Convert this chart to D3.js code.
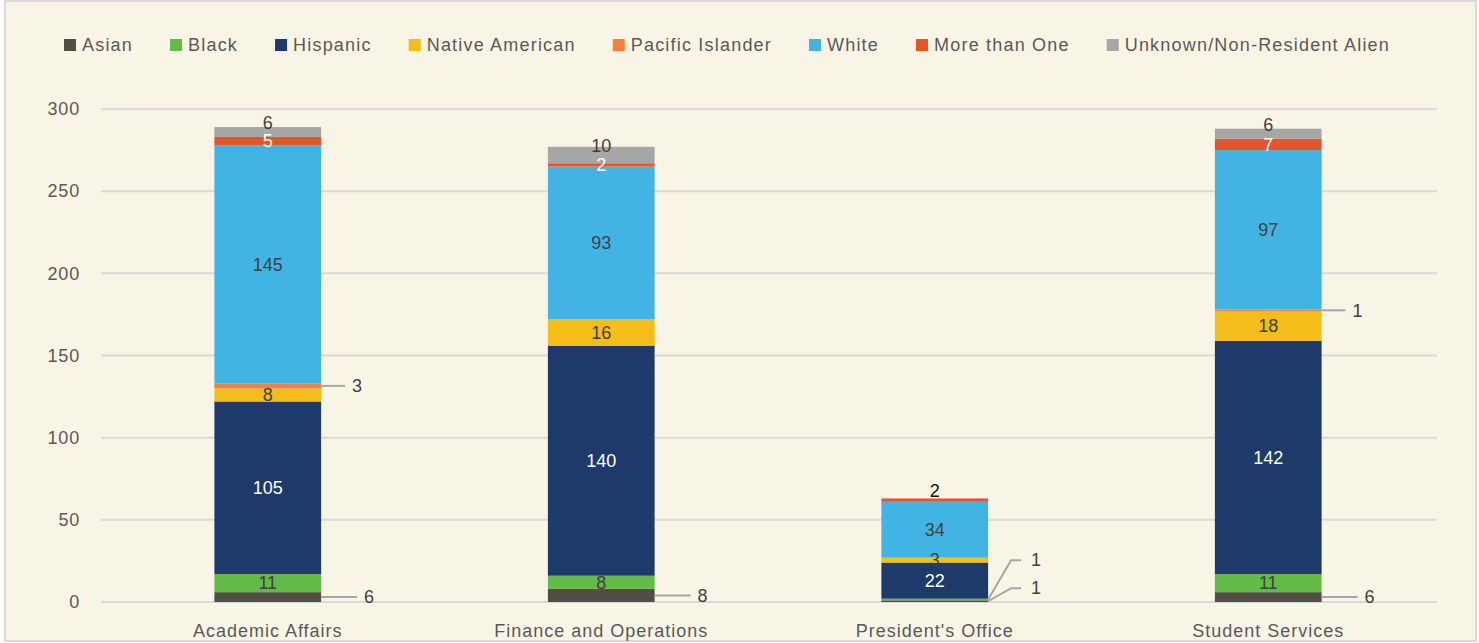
<!DOCTYPE html>
<html>
<head>
<script src="https://cdn.jsdelivr.net/npm/d3@7"></script>
<style>
  body { margin: 0; background: #fff; }
  svg text { font-family: "Liberation Sans", Arial, sans-serif; fill: #595959; }
</style>
</head>
<body>
<div id="vis"></div>
<script>
const departments = ["Academic Affairs", "Finance and Operations", "President's Office", "Student Services"];
const groups = ["Asian", "Black", "Hispanic", "Native American", "Pacific Islander", "White", "More than One", "Unknown/Non-Resident Alien"];
const colors = ["#4f4f45", "#62bb46", "#1d3a6b", "#f4bd19", "#f4813a", "#42b4e4", "#e2562a", "#a6a6a6"];
// counts per group, one value per department
const asian    = [6, 8, 1, 6];
const black    = [11, 8, 1, 11];
const hispanic = [105, 140, 22, 142];
const native   = [8, 16, 3, 18];
const pacific  = [3, 0, 0, 1];
const white    = [145, 93, 34, 97];
const multi    = [5, 2, 2, 7];
const unknown  = [6, 10, 0, 6];
const yTicks = [0, 50, 100, 150, 200, 250, 300];

const series = [asian, black, hispanic, native, pacific, white, multi, unknown];
// groups whose labels sit outside the bar with a leader line
const outsideGroups = ["Asian", "Pacific Islander"];
// label text colour per group for labels inside the bar
const labelColors = ["#404040", "#404040", "#ffffff", "#404040", "#404040", "#404040", "#ffffff", "#404040"];

const W = 1479, H = 643;
const svg = d3.select("#vis").append("svg").attr("width", W).attr("height", H);

svg.append("rect").attr("x", 5).attr("y", 1).attr("width", W - 8).attr("height", H - 3)
  .attr("fill", "#f9f5e6").attr("stroke", "#d9d9d9").attr("stroke-width", 2);

const y = d3.scaleLinear().domain([0, 300]).range([602, 109]);
const x = d3.scaleBand().domain(departments).range([101, 1435]);
const barW = x.bandwidth() * 0.32;

// gridlines
svg.append("g").selectAll("line").data(yTicks).join("line")
  .attr("x1", 101).attr("x2", 1437)
  .attr("y1", d => y(d)).attr("y2", d => y(d))
  .attr("stroke", "#d9d9d9").attr("stroke-width", 2);

const yAxis = d3.axisLeft(y).tickValues(yTicks).tickSize(0).tickPadding(0);
const gy = svg.append("g").attr("transform", "translate(80,0)").call(yAxis);
gy.select(".domain").remove();
gy.selectAll("text").attr("font-size", 18).attr("fill", "#595959")
  .style("font-family", "Liberation Sans, Arial, sans-serif").attr("letter-spacing", 0.8);

const xAxis = d3.axisBottom(x).tickSize(0).tickPadding(0);
const gx = svg.append("g").attr("transform", "translate(0,624)").call(xAxis);
gx.select(".domain").remove();
gx.selectAll("text").attr("font-size", 18).attr("fill", "#595959").attr("dy", "0.71em")
  .style("font-family", "Liberation Sans, Arial, sans-serif").attr("letter-spacing", 1);

// stack
const table = departments.map((dep, i) => {
  const row = { dep };
  groups.forEach((g, k) => row[g] = series[k][i]);
  return row;
});
const stacked = d3.stack().keys(groups)(table);
const totals = departments.map((dep, i) => d3.sum(series, s => s[i]));

const layer = svg.append("g").selectAll("g").data(stacked).join("g")
  .attr("fill", (d, k) => colors[k]);
layer.selectAll("rect").data(d => d).join("rect")
  .attr("x", d => x(d.data.dep) + (x.bandwidth() - barW) / 2)
  .attr("width", barW)
  .attr("y", d => y(d[1]))
  .attr("height", d => y(d[0]) - y(d[1]));

// labels
const outside = [];
stacked.forEach((s, k) => {
  const g = groups[k];
  s.forEach((d, i) => {
    const v = d[1] - d[0];
    if (v <= 0) return;
    const cx = x(d.data.dep) + x.bandwidth() / 2;
    const mid = y((d[0] + d[1]) / 2);
    if (outsideGroups.includes(g) || y(d[0]) - y(d[1]) < 3) {
      outside.push({ dep: d.data.dep, v, mid, right: cx + barW / 2, g });
      return;
    }
    // the label of the top segment sits a little above it, in dark text
    const top = d[1] >= totals[i] - 0.01;
    svg.append("text")
      .attr("x", cx).attr("y", top ? mid - 9 : mid).attr("dy", "0.35em")
      .attr("text-anchor", "middle").attr("font-size", 18)
      .style("fill", top && labelColors[k] === "#ffffff" ? "#111" : labelColors[k])
      .text(v);
  });
});

// leader-line labels; labels that crowd each other are stacked upwards
d3.groups(outside, d => d.dep).forEach(([dep, items]) => {
  items.sort((a, b) => b.mid - a.mid);
  const clusters = [];
  items.forEach(it => {
    const last = clusters[clusters.length - 1];
    if (last && Math.abs(last[last.length - 1].mid - it.mid) < 20) last.push(it);
    else clusters.push([it]);
  });
  clusters.forEach(cl => {
    const many = cl.length > 1;
    let prev = null;
    cl.forEach(it => {
      let ly = many ? it.mid - 13 : it.mid;
      if (prev !== null) ly = prev - 28;
      prev = ly;
      const lx = it.right + (it.g === "Pacific Islander" ? 31 : 43);
      const pts = many
        ? [[it.right, it.mid], [lx - 20, ly], [lx - 10, ly]]
        : [[it.right, it.mid], [lx - 7, ly]];
      svg.append("polyline").attr("points", pts.map(p => p.join(",")).join(" "))
        .attr("fill", "none").attr("stroke", "#a6a6a6").attr("stroke-width", 2);
      svg.append("text").attr("x", lx).attr("y", ly).attr("dy", "0.35em")
        .attr("font-size", 18).style("fill", "#404040").text(it.v);
    });
  });
});

// legend
const legend = svg.append("g").attr("transform", "translate(64,45)");
let lxPos = 0;
groups.forEach((g, k) => {
  const item = legend.append("g").attr("transform", `translate(${lxPos},0)`);
  item.append("rect").attr("x", 0).attr("y", -6).attr("width", 12).attr("height", 12).attr("fill", colors[k]);
  const t = item.append("text").attr("x", 18).attr("y", 0).attr("dy", "0.35em")
    .attr("font-size", 18).attr("letter-spacing", 1.2).text(g);
  lxPos += 18 + t.node().getComputedTextLength() + 37;
});
</script>
</body>
</html>
